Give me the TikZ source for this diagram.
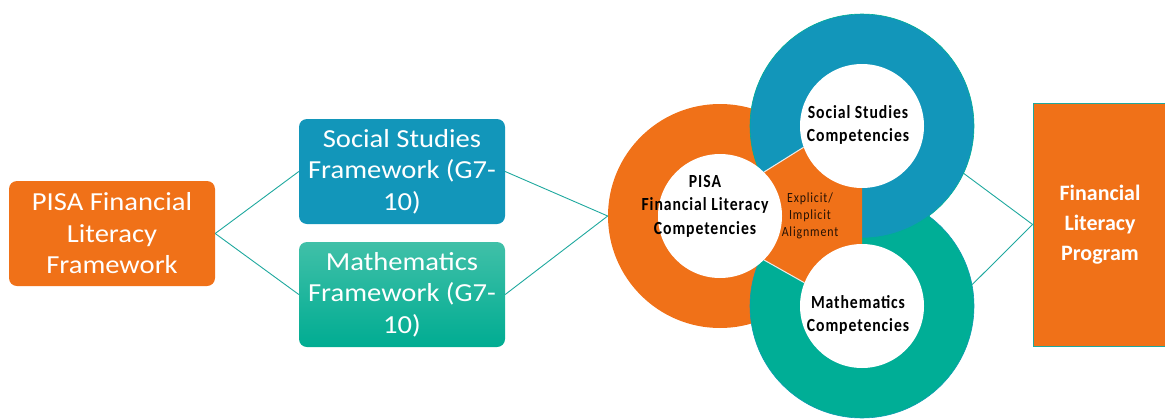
\documentclass[tikz,border=0pt]{standalone}
\usepackage{fontspec}
\setmainfont{Carlito}
\newfontfamily\boxfont[FakeStretch=1.1]{Carlito}
\newfontfamily\ringfont[LetterSpace=5,FakeStretch=0.85]{Carlito}
\newfontfamily\alignfont[LetterSpace=6,FakeStretch=0.85]{Carlito}
\usetikzlibrary{backgrounds}
\definecolor{orangec}{RGB}{240,113,24}
\definecolor{ssblue}{RGB}{18,150,186}
\definecolor{tealc}{RGB}{0,174,150}
\definecolor{mathtop}{RGB}{64,192,168}
\definecolor{mathbot}{RGB}{0,172,146}
\definecolor{linec}{RGB}{30,168,158}
\begin{document}
\begin{tikzpicture}[x=1pt,y=-1pt]
\tikzset{every node/.append style={inner sep=0pt}}
\tikzset{box/.style={rounded corners=8pt, minimum width=206pt, minimum height=105pt, text=white, align=center, font=\boxfont\fontsize{26}{31.5}\selectfont},
         ring/.style={circle, minimum size=224pt, line width=0.6pt},
         hole/.style={circle, minimum size=124pt, fill=white},
         ringtext/.style={align=center, font=\ringfont\bfseries\fontsize{18.5}{23.5}\selectfont},
         link/.style={linec, line width=0.9pt},
         seam/.style={white!85!gray, line width=1pt}}
\useasboundingbox (0,0) rectangle (1165,418);
\node[box, fill=orangec] (pisa) at (112,233.5) {PISA Financial\\Literacy\\Framework};
\node[box, fill=ssblue] (ss) at (402,171.5) {Social Studies\\Framework (G7-\\10)};
\node[box, top color=mathtop, bottom color=mathbot] (math) at (402,294.5) {Mathematics\\Framework (G7-\\10)};
\node[hole] (pisahole) at (720,216) {};
\node[hole] (sshole) at (862,126) {};
\node[hole] (mathhole) at (862,306) {};
\begin{scope}[on background layer]
\node[ring, fill=orangec] (pisaring) at (pisahole) {};
\node[ring, fill=tealc, draw=ssblue!70!tealc] (mathring) at (mathhole) {};
\node[ring, fill=ssblue, draw=tealc] (ssring) at (sshole) {};
\fill[orangec] (pisahole.45) -- (sshole.200) -- (sshole.270) -- (mathhole.90) -- (mathhole.158) -- (pisahole.-45) -- cycle;
\draw[seam] (pisahole.45) -- (sshole.200);
\draw[seam] (pisahole.-45) -- (mathhole.158);
\end{scope}
\node[ringtext] (pisatext) at (705,206) {PISA\\Financial Literacy\\Competencies};
\node[ringtext] (sstext) at (858,125) {Social Studies\\Competencies};
\node[ringtext] (mathtext) at (858,315) {Mathematics\\Competencies};
\node[align=center, font=\alignfont\fontsize{14}{17}\selectfont, text=black!85!orangec] (align) at (810,216) {Explicit/\\Implicit\\Alignment};
\node[fill=orangec, draw=linec, line width=0.8pt, minimum width=134pt, minimum height=243pt, text=white, align=center, font=\bfseries\fontsize{22}{30}\selectfont] (prog) at (1100,224.5) {Financial\\Literacy\\Program};
\draw[link] (pisa.east) -- (ss.west);
\draw[link] (pisa.east) -- (math.west);
\draw[link] (ss.east) -- (pisaring.west);
\draw[link] (math.east) -- (pisaring.west);
\draw[link] (ssring.-25) -- (prog.west);
\draw[link] (mathring.11) -- (prog.west);
\end{tikzpicture}
\end{document}
